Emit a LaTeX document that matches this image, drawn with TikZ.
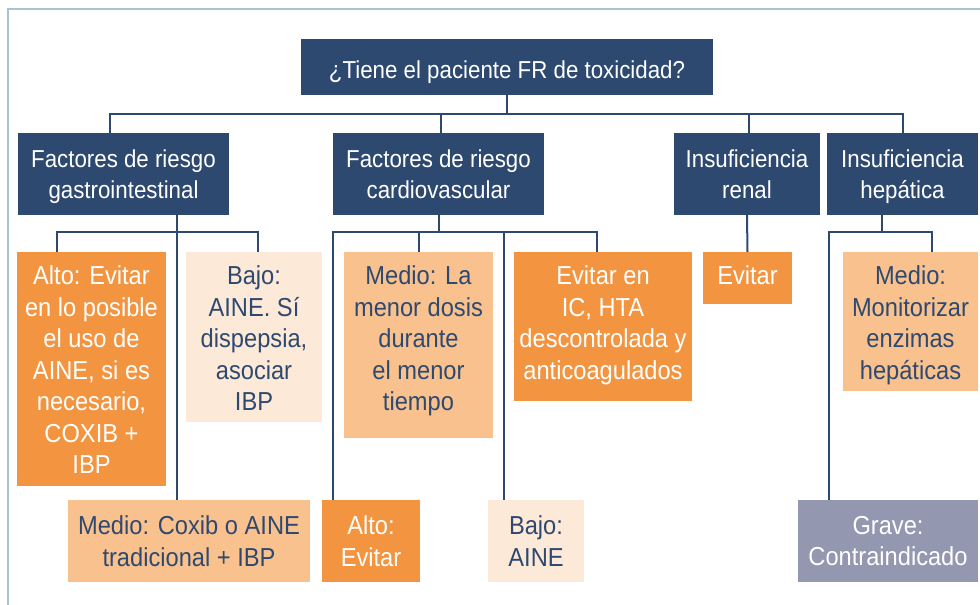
\documentclass[tikz,border=0pt]{standalone}
\usepackage{fontspec}
\setmainfont{Liberation Sans}[FakeStretch=0.91]
\usetikzlibrary{calc}
\definecolor{navy}{RGB}{46,73,112}
\definecolor{orng}{RGB}{243,149,64}
\definecolor{peach}{RGB}{249,193,141}
\definecolor{lpeach}{RGB}{253,233,216}
\definecolor{grayv}{RGB}{148,151,176}
\definecolor{framec}{RGB}{168,196,208}
\newcommand\fntbig{\fontsize{24.5}{31.5}\selectfont}
\newcommand\fntsm{\fontsize{26}{31.5}\selectfont}
\tikzset{
  boxbase/.style={draw=none,inner sep=0pt,outer sep=0pt,rectangle},
  txtbase/.style={inner sep=0pt,outer sep=0pt,anchor=north,align=center},
  wbig/.style={text=white,font=\fntbig},
  wsm/.style={text=white,font=\fntsm},
  nsm/.style={text=navy,font=\fntsm},
  conn/.style={draw=navy,line width=2pt},
}
% name, fill, text style, x1, y1, x2, y2, offset, text
\newcommand\bx[9]{%
  \node[boxbase,fill=#2,minimum width={#6-#4},minimum height={#7-#5}] (#1) at ({(#4+#6)/2},{(#5+#7)/2}) {};
  \node[txtbase,#3] (#1-t) at ([yshift=-#8pt]#1.north) {#9};
}
\begin{document}
\begin{tikzpicture}[x=1pt,y=-1pt]
\useasboundingbox (0,0) rectangle (980,605);
% frame
\draw[framec,line width=2pt] (8,610) -- (8,9) -- (990,9);
% level 1
\bx{q}{navy}{wbig}{301}{39}{713}{95}{22}{¿Tiene el paciente FR de toxicidad?}
% level 2
\bx{gi}{navy}{wbig}{18}{133}{229}{215}{16.5}{Factores de riesgo\\gastrointestinal}
\bx{cv}{navy}{wbig}{333}{133}{544}{215}{16.5}{Factores de riesgo\\cardiovascular}
\bx{ren}{navy}{wbig}{674}{133}{820}{215}{16.5}{Insuficiencia\\renal}
\bx{hep}{navy}{wbig}{827}{133}{978}{215}{16.5}{Insuficiencia\\hepática}
% level 3 (GI)
\bx{galto}{orng}{wsm}{17}{252}{166}{486}{14}{Alto: Evitar\\en lo posible\\el uso de\\AINE, si es\\necesario,\\COXIB +\\IBP}
\bx{gbajo}{lpeach}{nsm}{186}{252}{322}{422}{14}{Bajo:\\AINE. Sí\\dispepsia,\\asociar\\IBP}
\bx{gmed}{peach}{nsm}{68}{500}{310}{582}{16}{Medio: Coxib o AINE\\tradicional + IBP}
% level 3 (CV)
\bx{cmed}{peach}{nsm}{344}{252}{493}{438}{14}{Medio: La\\menor dosis\\durante\\el menor\\tiempo}
\bx{cevit}{orng}{wsm}{514}{252}{692}{401}{14}{Evitar en\\IC, HTA\\descontrolada y\\anticoagulados}
\bx{calto}{orng}{wsm}{322}{500}{420}{582}{16}{Alto:\\Evitar}
\bx{cbajo}{lpeach}{nsm}{488}{500}{584}{582}{16}{Bajo:\\AINE}
% level 3 (renal)
\bx{rev}{orng}{wsm}{703}{252}{792}{304}{14}{Evitar}
% level 3 (hepatic)
\bx{hmed}{peach}{nsm}{843}{252}{978}{391}{14}{Medio:\\Monitorizar\\enzimas\\hepáticas}
\bx{hgrave}{grayv}{wsm}{798}{500}{978}{582}{16}{Grave:\\Contraindicado}
% connectors level 1 -> 2
\coordinate (qb) at (507,114);
\draw[conn] (q.south) -- (qb);
\draw[conn] ([xshift=-13.5pt]gi.north) |- (qb) -| (hep.north);
\draw[conn] ([xshift=2.5pt]cv.north) -- ([xshift=2.5pt]cv.north |- qb);
\draw[conn] ([xshift=2pt]ren.north) -- ([xshift=2pt]ren.north |- qb);
% GI
\coordinate (gb) at (177,232);
\draw[conn] (gi.south -| gb) -- (gmed.north -| gb);
\draw[conn] ([xshift=-34.5pt]galto.north) |- (gb) -| ([xshift=4pt]gbajo.north);
% CV
\coordinate (cb) at (439,232);
\draw[conn] (cv.south -| cb) -- (cb);
\draw[conn] ([xshift=-38pt]calto.north) |- (cb) -| ([xshift=-6pt]cevit.north);
\draw[conn] (cmed.north) -- (cmed.north |- cb);
\draw[conn] ([xshift=-32pt]cbajo.north) -- ([xshift=-32pt]cbajo.north |- cb);
% renal
\draw[conn] (ren.south) -- (rev.north);
% hepatic
\coordinate (hb) at (882,232);
\draw[conn] (hep.south -| hb) -- (hb);
\draw[conn] ([xshift=-59pt]hgrave.north) |- (hb) -| ([xshift=21.5pt]hmed.north);
\end{tikzpicture}
\end{document}
